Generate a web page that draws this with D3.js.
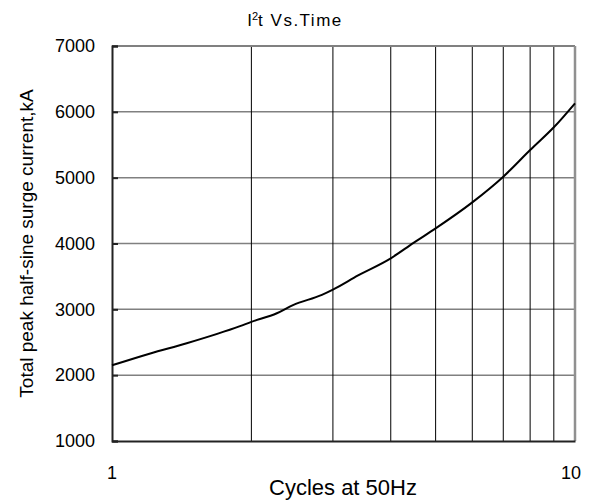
<!DOCTYPE html>
<html lang="en">
<head>
<meta charset="utf-8">
<style type="text/css">
    body { margin: 0; background: #fff; }
    svg { font-family: "Liberation Sans", Arial, sans-serif; }
    .grid-h line { stroke: #808080; stroke-width: 1.5px; }
    .grid-v line { stroke: #000; stroke-width: 1px; }
    .curve { fill: none; stroke: #000; stroke-width: 2px; }
</style>
</head>
<body>
<svg width="597" height="502"></svg>
<script src="https://d3js.org/d3.v7.min.js"></script>
<script type="text/javascript">

    // values
    var cycles  = [1, 1.21, 1.45, 1.89, 2, 2.27, 2.46, 2.84, 3, 3.4, 4, 4.48, 5, 6, 7, 8, 9, 10];
    var current = [2150, 2330, 2485, 2745, 2810, 2940, 3065, 3220, 3300, 3515, 3775, 4010, 4230, 4625, 5015, 5420, 5765, 6130];

    var yTicks = [1000, 2000, 3000, 4000, 5000, 6000, 7000];
    var xGrid = [2, 3, 4, 5, 6, 7, 8, 9];
    var xLabels = [1, 10];

    var svg = d3.select("svg");
    var plotLeft = 112, plotRight = 575, plotTop = 46, plotBottom = 441;

    var x = d3.scaleLog().domain([1, 10]).range([plotLeft, plotRight]);
    var y = d3.scaleLinear().domain([1000, 7000]).range([plotBottom, plotTop]);

    // horizontal grid
    svg.append("g").attr("class", "grid-h")
        .selectAll("line").data(yTicks.slice(1, -1)).enter().append("line")
        .attr("x1", plotLeft).attr("x2", plotRight)
        .attr("y1", function (d) { return y(d); })
        .attr("y2", function (d) { return y(d); });

    // vertical grid
    svg.append("g").attr("class", "grid-v")
        .selectAll("line").data(xGrid).enter().append("line")
        .attr("x1", function (d) { return x(d); })
        .attr("x2", function (d) { return x(d); })
        .attr("y1", plotTop).attr("y2", plotBottom);

    // frame: top/right grey, left/bottom dark
    svg.append("line").attr("x1", plotLeft).attr("x2", plotRight).attr("y1", plotTop).attr("y2", plotTop)
        .attr("stroke", "#808080").attr("stroke-width", 2);
    svg.append("line").attr("x1", plotRight).attr("x2", plotRight).attr("y1", plotTop).attr("y2", plotBottom)
        .attr("stroke", "#909090").attr("stroke-width", 2.5);

    // left axis with short inward ticks
    var yAxis = svg.append("g")
        .attr("transform", "translate(" + plotLeft + ",0)")
        .call(d3.axisRight(y).tickValues(yTicks).tickSize(6).tickFormat(""));
    yAxis.select(".domain").attr("stroke", "#222").attr("stroke-width", 2);
    yAxis.selectAll(".tick line").attr("stroke", "#222").attr("stroke-width", 2);

    svg.append("g").selectAll("text").data(yTicks).enter().append("text")
        .attr("x", 95).attr("y", function (d) { return y(d); })
        .attr("dy", "0.35em").attr("text-anchor", "end")
        .style("font-size", "18px")
        .text(function (d) { return d; });

    // bottom axis
    var xAxis = svg.append("g")
        .attr("transform", "translate(0," + plotBottom + ")")
        .call(d3.axisBottom(x).tickValues(xLabels).tickSize(0).tickFormat(""));
    xAxis.select(".domain").attr("stroke", "#222").attr("stroke-width", 2);

    svg.append("g").selectAll("text").data(xLabels).enter().append("text")
        .attr("x", function (d) { return x(d); }).attr("y", 479)
        .attr("text-anchor", function (d) { return d === 10 ? "end" : "middle"; })
        .attr("dx", function (d) { return d === 10 ? 6 : 0; })
        .style("font-size", "18px")
        .text(function (d) { return d; });

    // the curve
    var line = d3.line()
        .x(function (d, i) { return x(cycles[i]); })
        .y(function (d) { return y(d); })
        .curve(d3.curveMonotoneX);
    svg.append("path").datum(current).attr("class", "curve").attr("d", line);

    // titles
    var title = svg.append("text").attr("x", 295).attr("y", 26)
        .attr("text-anchor", "middle").style("font-size", "17px")
        .attr("letter-spacing", "1.5");
    title.append("tspan").attr("letter-spacing", "0").text("I");
    title.append("tspan").attr("dy", -6).attr("letter-spacing", "0").style("font-size", "11px").text("2");
    title.append("tspan").attr("dy", 6).text("t  Vs.Time");

    svg.append("text").attr("x", 343).attr("y", 495)
        .attr("text-anchor", "middle").style("font-size", "22px")
        .text("Cycles at 50Hz");

    svg.append("text")
        .attr("transform", "translate(33," + ((plotTop + plotBottom) / 2) + ") rotate(-90)")
        .attr("text-anchor", "middle").style("font-size", "19px")
        .text("Total peak half-sine surge current,kA");

</script>
</body>
</html>
